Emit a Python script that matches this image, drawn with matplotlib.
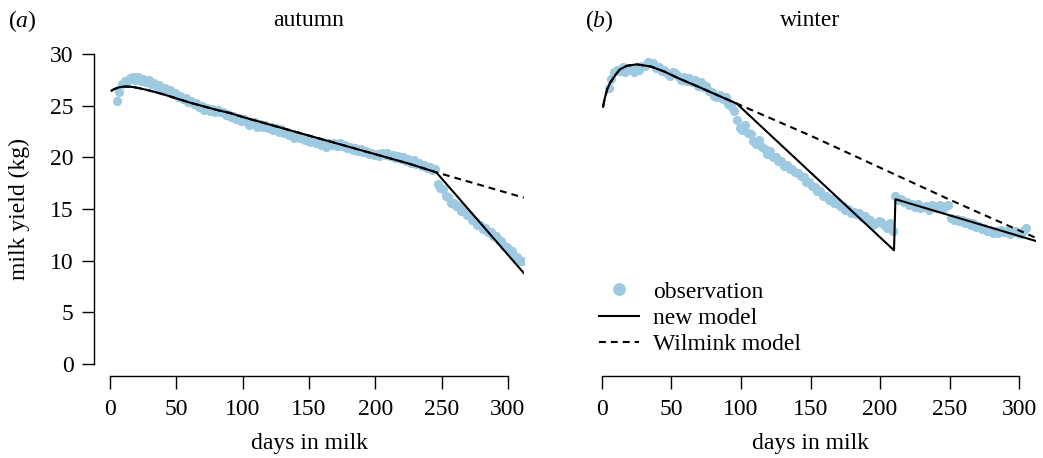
import matplotlib
matplotlib.use("Agg")
import matplotlib.pyplot as plt

plt.rcParams['font.family'] = ['Liberation Serif', 'DejaVu Serif']
plt.rcParams['mathtext.fontset'] = 'custom'
plt.rcParams['mathtext.rm'] = 'Liberation Serif'
plt.rcParams['mathtext.it'] = 'Liberation Serif:italic'

# ---------------- data ----------------
panel_titles = ["autumn", "winter"]
panel_tags = [r"($a$)", r"($b$)"]
x_ticks = [0, 50, 100, 150, 200, 250, 300]
y_ticks = [0, 5, 10, 15, 20, 25, 30]

# autumn observations (every second day)
obs_a_days = list(range(5, 312, 2))
obs_a_vals = [25.5, 26.3, 27.1, 27.4, 27.3, 27.7, 27.8, 27.5, 27.8, 27.4,
              27.6, 27.3, 27.5, 27.1, 27.2, 26.8, 27.0, 26.7, 26.7, 26.4,
              26.5, 26.1, 26.2, 25.8, 25.9, 25.6, 25.7, 25.4, 25.5, 25.2,
              25.3, 24.9, 25.0, 24.6, 24.8, 24.5, 24.7, 24.4, 24.6, 24.4,
              24.4, 24.1, 24.2, 23.9, 24.0, 23.7, 23.8, 23.5, 23.7, 23.4,
              23.1, 23.2, 23.4, 22.9, 23.2, 22.9, 23.1, 22.8, 22.9, 22.6,
              22.8, 22.5, 22.7, 22.4, 22.5, 22.2, 22.2, 21.9, 22.2, 21.9,
              22.0, 21.7, 21.7, 21.5, 21.7, 21.4, 21.6, 21.2, 21.3, 21.0,
              21.4, 21.2, 21.4, 21.1, 21.4, 21.1, 21.2, 20.9, 21.0, 20.7,
              20.9, 20.6, 20.8, 20.5, 20.6, 20.3, 20.4, 20.2, 20.3, 20.1,
              20.4, 20.2, 20.4, 20.1, 20.2, 19.9, 20.1, 19.8, 20.0, 19.6,
              19.8, 19.5, 19.7, 19.4, 19.5, 19.2, 19.3, 19.0, 19.1, 18.8,
              18.9, 17.4, 17.0, 16.9, 16.3, 16.2, 15.6, 15.6, 15.3, 15.3,
              14.8, 14.8, 14.4, 14.4, 13.9, 13.8, 13.5, 13.5, 13.1, 13.2,
              12.8, 12.8, 12.4, 12.4, 12.0, 11.9, 11.4, 11.3, 10.9, 10.9,
              10.4, 10.4, 10.0, 10.0]

# winter observations (every second day)
obs_b_days = list(range(5, 306, 2))
obs_b_vals = [26.7, 27.6, 28.3, 28.5, 28.4, 28.7, 28.3, 28.6, 28.5, 28.3,
              28.6, 28.5, 28.8, 28.8, 29.2, 29.1, 29.1, 28.6, 28.7, 28.4,
              28.5, 28.2, 27.9, 28.3, 28.2, 27.9, 27.5, 27.8, 27.4, 27.7,
              27.3, 27.5, 26.9, 27.3, 26.8, 26.9, 26.4, 26.3, 25.9, 25.8,
              26.0, 25.6, 25.8, 25.2, 25.0, 24.5, 23.6, 22.8, 22.6, 23.1,
              22.4, 22.3, 21.6, 21.3, 21.7, 21.0, 20.8, 20.3, 20.6, 20.0,
              20.0, 19.6, 19.6, 19.2, 19.3, 18.9, 18.9, 18.6, 18.5, 18.2,
              18.1, 17.6, 17.6, 17.2, 17.1, 16.7, 16.7, 16.3, 16.3, 15.9,
              16.0, 15.6, 15.7, 15.3, 15.3, 14.9, 15.0, 14.6, 14.7, 14.5,
              14.6, 14.2, 14.3, 13.9, 13.9, 13.5, 13.6, 13.8, 13.7, 13.5,
              13.2, 13.6, 12.9, 16.3, 15.9, 16.0, 15.7, 15.7, 15.4, 15.5,
              15.2, 15.5, 15.1, 15.2, 15.3, 14.9, 15.4, 15.3, 15.1, 15.4,
              15.0, 15.3, 15.4, 14.1, 13.9, 14.0, 13.8, 13.9, 13.6, 13.7,
              13.5, 13.6, 13.3, 13.4, 13.1, 13.2, 12.9, 13.0, 12.7, 12.9,
              12.7, 13.0, 12.8, 12.9, 12.6, 12.8, 12.9, 12.7, 12.6, 12.9,
              13.2]

# model curves
new_a_days = [1, 3, 6, 9, 12, 16, 20, 25, 30, 40, 50, 60, 70, 80, 90, 100,
              125, 150, 175, 200, 225, 246, 312]
new_a_vals = [26.45, 26.6, 26.75, 26.83, 26.85, 26.82, 26.74, 26.6, 26.45,
              26.1, 25.7, 25.3, 24.95, 24.6, 24.3, 23.9, 23.0, 22.1, 21.2,
              20.3, 19.4, 18.55, 8.8]
wil_a_days = [1, 3, 6, 9, 12, 16, 20, 25, 30, 40, 50, 60, 70, 80, 90, 100,
              125, 150, 175, 200, 225, 246, 312]
wil_a_vals = [26.45, 26.6, 26.75, 26.83, 26.85, 26.82, 26.74, 26.6, 26.45,
              26.1, 25.7, 25.3, 24.95, 24.6, 24.3, 23.9, 23.0, 22.1, 21.2,
              20.3, 19.4, 18.55, 16.1]

new_b_days = [1, 2, 4, 6, 8, 10, 13, 18, 25, 35, 45, 56, 70, 80, 97, 210,
              211, 312]
new_b_vals = [24.9, 25.6, 26.6, 27.2, 27.6, 28.0, 28.5, 28.85, 29.0, 28.8,
              28.3, 27.6, 26.8, 26.2, 25.2, 11.0, 15.95, 11.9]
wil_b_days = [1, 2, 4, 6, 8, 10, 13, 18, 25, 35, 45, 56, 70, 80, 97, 150,
              200, 250, 312]
wil_b_vals = [24.9, 25.6, 26.6, 27.2, 27.6, 28.0, 28.5, 28.85, 29.0, 28.8,
              28.3, 27.6, 26.8, 26.2, 25.2, 22.1, 19.0, 15.9, 12.2]

panels = [
    (obs_a_days, obs_a_vals, new_a_days, new_a_vals, wil_a_days, wil_a_vals),
    (obs_b_days, obs_b_vals, new_b_days, new_b_vals, wil_b_days, wil_b_vals),
]

# ---------------- figure ----------------
W, H = 1043, 458
fig = plt.figure(figsize=(W / 100, H / 100), dpi=100)

def fx(px):
    return px / W

def fy(py):
    return 1 - py / H

ax_left_px = [94.3, 585.0]
ax_right_px = [523.8, 1036.0]
top_px, bot_px = 41.6, 376.4

obs_color = "#9ECAE1"
FS = 17

axes = []
for i in range(2):
    ax = fig.add_axes([fx(ax_left_px[i]), fy(bot_px),
                       fx(ax_right_px[i] - ax_left_px[i]),
                       (bot_px - top_px) / H])
    axes.append(ax)
    od, ov, nd, nv, wd, wv = panels[i]
    ax.plot(od, ov, 'o', color=obs_color, markersize=6.6, markeredgewidth=0,
            label="observation", zorder=1)
    ax.plot(wd, wv, color='black', lw=1.5, dashes=(3.3, 2.4),
            label="Wilmink model", zorder=2)
    ax.plot(nd, nv, color='black', lw=1.5, label="new model", zorder=3)

    ax.set_xlim(-12, 312)
    ax.set_ylim(-1.2, 31.2)
    for s in ['top', 'right']:
        ax.spines[s].set_visible(False)
    ax.spines['bottom'].set_bounds(0, 300)
    ax.spines['bottom'].set_linewidth(1.0)
    ax.spines['left'].set_linewidth(1.0)
    ax.set_xticks(x_ticks)
    ax.set_xticklabels([str(t) for t in x_ticks])
    ax.tick_params(axis='x', length=9, width=1.0, pad=7, labelsize=FS)
    ax.set_xlabel("days in milk", fontsize=FS)
    ax.xaxis.set_label_coords(0.5, -(443 - bot_px) / (bot_px - top_px))
    ax.xaxis.label.set_va('center')
    if i == 0:
        ax.spines['left'].set_bounds(0, 30)
        ax.set_yticks(y_ticks)
        ax.set_yticklabels([str(t) for t in y_ticks])
        ax.tick_params(axis='y', length=9, width=1.0, pad=6, labelsize=FS)
        ax.set_ylabel("milk yield (kg)", fontsize=FS)
        ax.yaxis.set_label_coords(-(94.3 - 19) / (ax_right_px[0] - ax_left_px[0]), 0.5)
        ax.yaxis.label.set_va('center')
    else:
        ax.spines['left'].set_visible(False)
        ax.set_yticks([])

    cx = (ax_left_px[i] + ax_right_px[i]) / 2
    fig.text(fx(cx), fy(21), panel_titles[i], ha='center', va='center',
             fontsize=FS)

fig.text(fx(8), fy(21), panel_tags[0], ha='left', va='center', fontsize=FS)
fig.text(fx(585), fy(21), panel_tags[1], ha='left', va='center', fontsize=FS)

h, l = axes[1].get_legend_handles_labels()
order = [0, 2, 1]
leg = axes[1].legend([h[k] for k in order], [l[k] for k in order],
                     loc='upper left', bbox_to_anchor=(fx(599), fy(281)),
                     bbox_transform=fig.transFigure, frameon=False,
                     fontsize=FS, numpoints=1, handlelength=1.7,
                     handletextpad=0.6, labelspacing=0.21, borderpad=0,
                     borderaxespad=0, markerscale=1.4)

fig.savefig("out.png", dpi=100)
